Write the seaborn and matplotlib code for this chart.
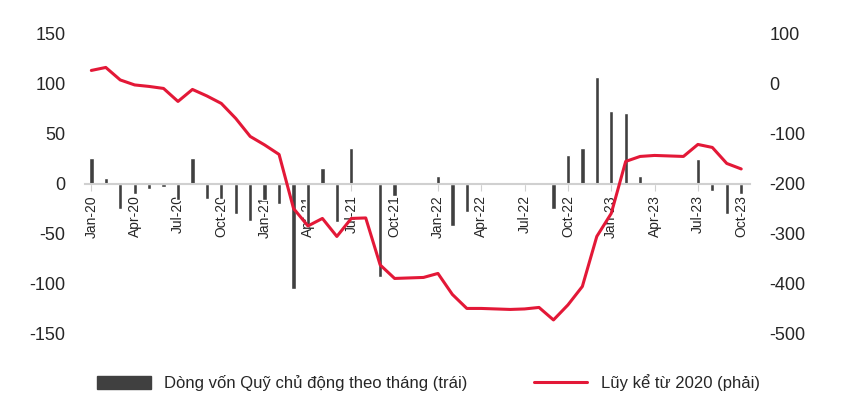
import numpy as np
import pandas as pd
import matplotlib
matplotlib.use("Agg")
import matplotlib.pyplot as plt
import seaborn as sns
from matplotlib.patches import Patch
from matplotlib.lines import Line2D

sns.set_style("white")
plt.rcParams['font.family'] = ['Liberation Sans Narrow', 'Liberation Sans', 'DejaVu Sans']
plt.rcParams['axes.unicode_minus'] = False

months = pd.date_range("2020-01-01", "2023-10-01", freq="MS").strftime("%b-%y").tolist()
flows = [26, 6, -25, -10, -5, -3, -16, 26, -15, -15, -30, -37,
         -16, -20, -105, -42, 16, -38, 36, 1, -93, -12, 1, 0,
         8, -42, -28, 0, 0, 0, 0, 1, -25, 29, 36, 107,
         73, 71, 8, 1, 0, 0, 25, -7, -30, -10]
cum = [27, 33, 8, -2, -5, -9, -35, -11, -24, -39, -69, -105,
       -122, -141, -249, -284, -269, -305, -269, -268, -362, -389, -388, -387,
       -379, -421, -449, -449, -450, -451, -450, -447, -472, -442, -405, -305,
       -259, -155, -145, -143, -144, -145, -121, -127, -159, -170]
bar_label = "Dòng vốn Quỹ chủ động theo tháng (trái)"
line_label = "Lũy kể từ 2020 (phải)"

df = pd.DataFrame({"month": months, "flow": flows, "cum": cum, "i": np.arange(len(months))})

fig = plt.figure(figsize=(8.57, 4.19), dpi=100)
ax = fig.add_axes([0.099, 0.203, 0.776, 0.716])
sns.barplot(data=df, x="month", y="flow", order=months, color="#404040",
            width=0.3, saturation=1, ax=ax)
ax2 = ax.twinx()
sns.lineplot(data=df, x="i", y="cum", color="#E31837", linewidth=2.2, ax=ax2)

ax.set_xlim(-0.45, len(months) - 0.4)
ax.set_ylim(-150, 150)
ax2.set_ylim(-500, 100)
ax.set_yticks(range(-150, 151, 50))
ax2.set_yticks(range(-500, 101, 100))
ax.set_xticks(range(0, len(months), 3))
ax.set_xticklabels(months[::3], fontsize=13)
ax.set_xlabel(""); ax.set_ylabel(""); ax2.set_xlabel(""); ax2.set_ylabel("")
for a in (ax, ax2):
    for s in ("top", "left", "right", "bottom"):
        a.spines[s].set_visible(False)
ax.spines["bottom"].set_visible(True)
ax.spines["bottom"].set_position(("data", 0))
ax.spines["bottom"].set_color("#d0d0d0")
ax.spines["bottom"].set_linewidth(1.5)
ax.tick_params(axis="x", length=5, color="#d0d0d0", pad=3, bottom=True, labelrotation=90)
ax.tick_params(axis="y", labelsize=13, length=0, pad=14)
ax2.tick_params(axis="y", labelsize=13, length=0, pad=14)
plt.setp(ax.get_xticklabels(), rotation=90, ha="center", va="top")
ax.grid(False); ax2.grid(False)

handles = [Patch(color="#404040"), Line2D([0], [0], color="#E31837", lw=2.2)]
fig.legend(handles, [bar_label, line_label], loc="center", bbox_to_anchor=(0.5, 0.086),
           ncol=2, frameon=False, fontsize=12, handlelength=3.2, handleheight=0.8,
           columnspacing=4)
fig.savefig("out.png", dpi=100)
